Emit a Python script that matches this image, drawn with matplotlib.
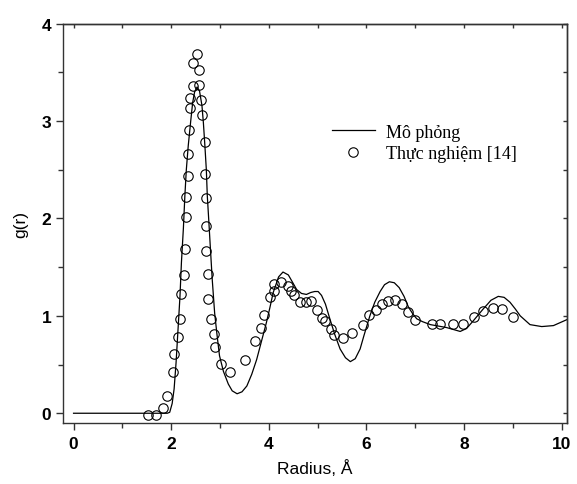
import matplotlib
matplotlib.use("Agg")
import matplotlib.pyplot as plt
from matplotlib.ticker import MultipleLocator

# Simulation curve (Mô phỏng)
sim_r = [0.0, 1.0, 1.85, 1.92, 1.97, 2.02, 2.06, 2.10, 2.14, 2.18, 2.21, 2.25,
         2.28, 2.31, 2.35, 2.40, 2.44, 2.48, 2.53, 2.58, 2.63, 2.66, 2.69,
         2.72, 2.74, 2.77, 2.80, 2.84, 2.89, 2.94, 2.99, 3.07, 3.17, 3.25,
         3.35, 3.45, 3.55, 3.65, 3.75, 3.85, 3.95, 4.02, 4.09, 4.20, 4.29,
         4.40, 4.48, 4.57, 4.67, 4.77, 4.86, 4.94, 5.01, 5.08, 5.16, 5.25,
         5.35, 5.46, 5.57, 5.67, 5.77, 5.87, 5.95, 6.07, 6.17, 6.28, 6.37,
         6.47, 6.57, 6.67, 6.77, 6.86, 6.95, 7.03, 7.15, 7.31, 7.64, 7.78,
         7.92, 8.05, 8.19, 8.29, 8.39, 8.48, 8.55, 8.70, 8.82, 8.94, 9.05,
         9.15, 9.35, 9.59, 9.83, 10.10]
sim_g = [0.0, 0.0, 0.0, 0.0, 0.01, 0.10, 0.25, 0.52, 0.86, 1.20, 1.55, 1.90,
         2.23, 2.50, 2.75, 3.00, 3.19, 3.30, 3.35, 3.31, 3.16, 2.98, 2.75,
         2.50, 2.23, 1.98, 1.72, 1.38, 1.03, 0.80, 0.59, 0.43, 0.30, 0.23,
         0.20, 0.22, 0.28, 0.40, 0.55, 0.74, 0.93, 1.08, 1.24, 1.40, 1.45,
         1.42, 1.35, 1.27, 1.23, 1.22, 1.24, 1.25, 1.25, 1.21, 1.12, 0.97,
         0.81, 0.66, 0.57, 0.53, 0.56, 0.66, 0.80, 1.00, 1.14, 1.25, 1.32,
         1.35, 1.34, 1.29, 1.20, 1.09, 1.02, 0.97, 0.94, 0.91, 0.88, 0.86,
         0.84, 0.87, 0.95, 1.01, 1.07, 1.12, 1.16, 1.20, 1.19, 1.14, 1.07,
         1.00, 0.91, 0.89, 0.90, 0.96]

# Experimental points (Thực nghiệm [14])
exp_r = [1.53, 1.68, 1.83, 1.91, 2.04, 2.05, 2.13, 2.18, 2.21, 2.27, 2.29,
         2.31, 2.31, 2.34, 2.35, 2.36, 2.39, 2.39, 2.44, 2.45, 2.53, 2.57,
         2.57, 2.62, 2.64, 2.69, 2.69, 2.72, 2.72, 2.72, 2.76, 2.76, 2.82,
         2.88, 2.89, 3.02, 3.21, 3.51, 3.71, 3.84, 3.90, 4.03, 4.11, 4.11,
         4.25, 4.39, 4.45, 4.52, 4.63, 4.77, 4.86, 4.98, 5.08, 5.15, 5.27,
         5.33, 5.51, 5.71, 5.92, 6.06, 6.20, 6.31, 6.45, 6.58, 6.73, 6.86,
         6.99, 7.35, 7.51, 7.78, 7.97, 8.21, 8.38, 8.60, 8.78, 9.00]
exp_g = [-0.02, -0.02, 0.05, 0.18, 0.42, 0.61, 0.78, 0.97, 1.22, 1.42, 1.69,
         2.01, 2.22, 2.44, 2.66, 2.91, 3.13, 3.24, 3.36, 3.60, 3.69, 3.52,
         3.37, 3.22, 3.06, 2.79, 2.46, 2.21, 1.92, 1.67, 1.43, 1.17, 0.97,
         0.81, 0.68, 0.51, 0.42, 0.55, 0.74, 0.88, 1.01, 1.19, 1.26, 1.33,
         1.35, 1.31, 1.26, 1.21, 1.14, 1.14, 1.15, 1.06, 0.98, 0.95, 0.86,
         0.80, 0.77, 0.82, 0.91, 1.01, 1.06, 1.12, 1.15, 1.16, 1.12, 1.04,
         0.96, 0.92, 0.92, 0.92, 0.92, 0.99, 1.05, 1.08, 1.07, 0.99]

x_ticks = [0, 2, 4, 6, 8, 10]
y_ticks = [0, 1, 2, 3, 4]

fig = plt.figure(figsize=(5.77, 4.85), dpi=100)
ax = fig.add_axes([0.1097, 0.1258, 0.8723, 0.8233])

ax.plot(sim_r, sim_g, color="black", lw=0.9, label="Mô phỏng", zorder=2)
ax.plot(exp_r, exp_g, ls="none", marker="o", ms=6.8, mfc="none", mec="black",
        mew=0.8, label="Thực nghiệm [14]", zorder=3)

ax.set_xlim(-0.21, 10.10)
ax.set_ylim(-0.1, 4.0)
ax.set_xticks(x_ticks)
ax.set_yticks(y_ticks)
ax.xaxis.set_minor_locator(MultipleLocator(1))
ax.yaxis.set_minor_locator(MultipleLocator(0.5))

for lab in ax.get_xticklabels() + ax.get_yticklabels():
    lab.set_fontfamily("Liberation Sans")
    lab.set_fontweight("bold")
    lab.set_fontsize(12.5)

ax.tick_params(which="major", direction="out", length=5, width=1, color="#333333",
               pad=3.5)
ax.tick_params(axis="x", which="major", pad=4.5)
ax.tick_params(which="minor", direction="out", length=3.5, width=1, color="#333333")
ax.tick_params(which="both", top=False, right=False)

# inward ticks on top and right
secx = ax.secondary_xaxis("top")
secx.set_xticks(x_ticks)
secx.xaxis.set_minor_locator(MultipleLocator(1))
secx.tick_params(which="both", direction="in", length=3, width=1, color="#333333",
                 labeltop=False)
secy = ax.secondary_yaxis("right")
secy.set_yticks(y_ticks)
secy.yaxis.set_minor_locator(MultipleLocator(0.5))
secy.tick_params(which="both", direction="in", length=3, width=1, color="#333333",
                 labelright=False)
for s in (secx, secy):
    for sp in s.spines.values():
        sp.set_linewidth(1.0)
        sp.set_color("#333333")

for sp in ax.spines.values():
    sp.set_linewidth(1.0)
    sp.set_color("#333333")

ax.set_xlabel("Radius, Å", fontfamily="Liberation Sans", fontsize=12.5, labelpad=6)
ax.set_ylabel("g(r)", fontfamily="Liberation Sans", fontsize=12.5, labelpad=10)

leg = ax.legend(loc="upper left", bbox_to_anchor=(0.52, 0.768), frameon=False,
                prop={"family": "Liberation Serif", "size": 13},
                handlelength=2.35, handletextpad=0.6, labelspacing=0.25,
                borderaxespad=0)

fig.savefig("out.png", dpi=100)
